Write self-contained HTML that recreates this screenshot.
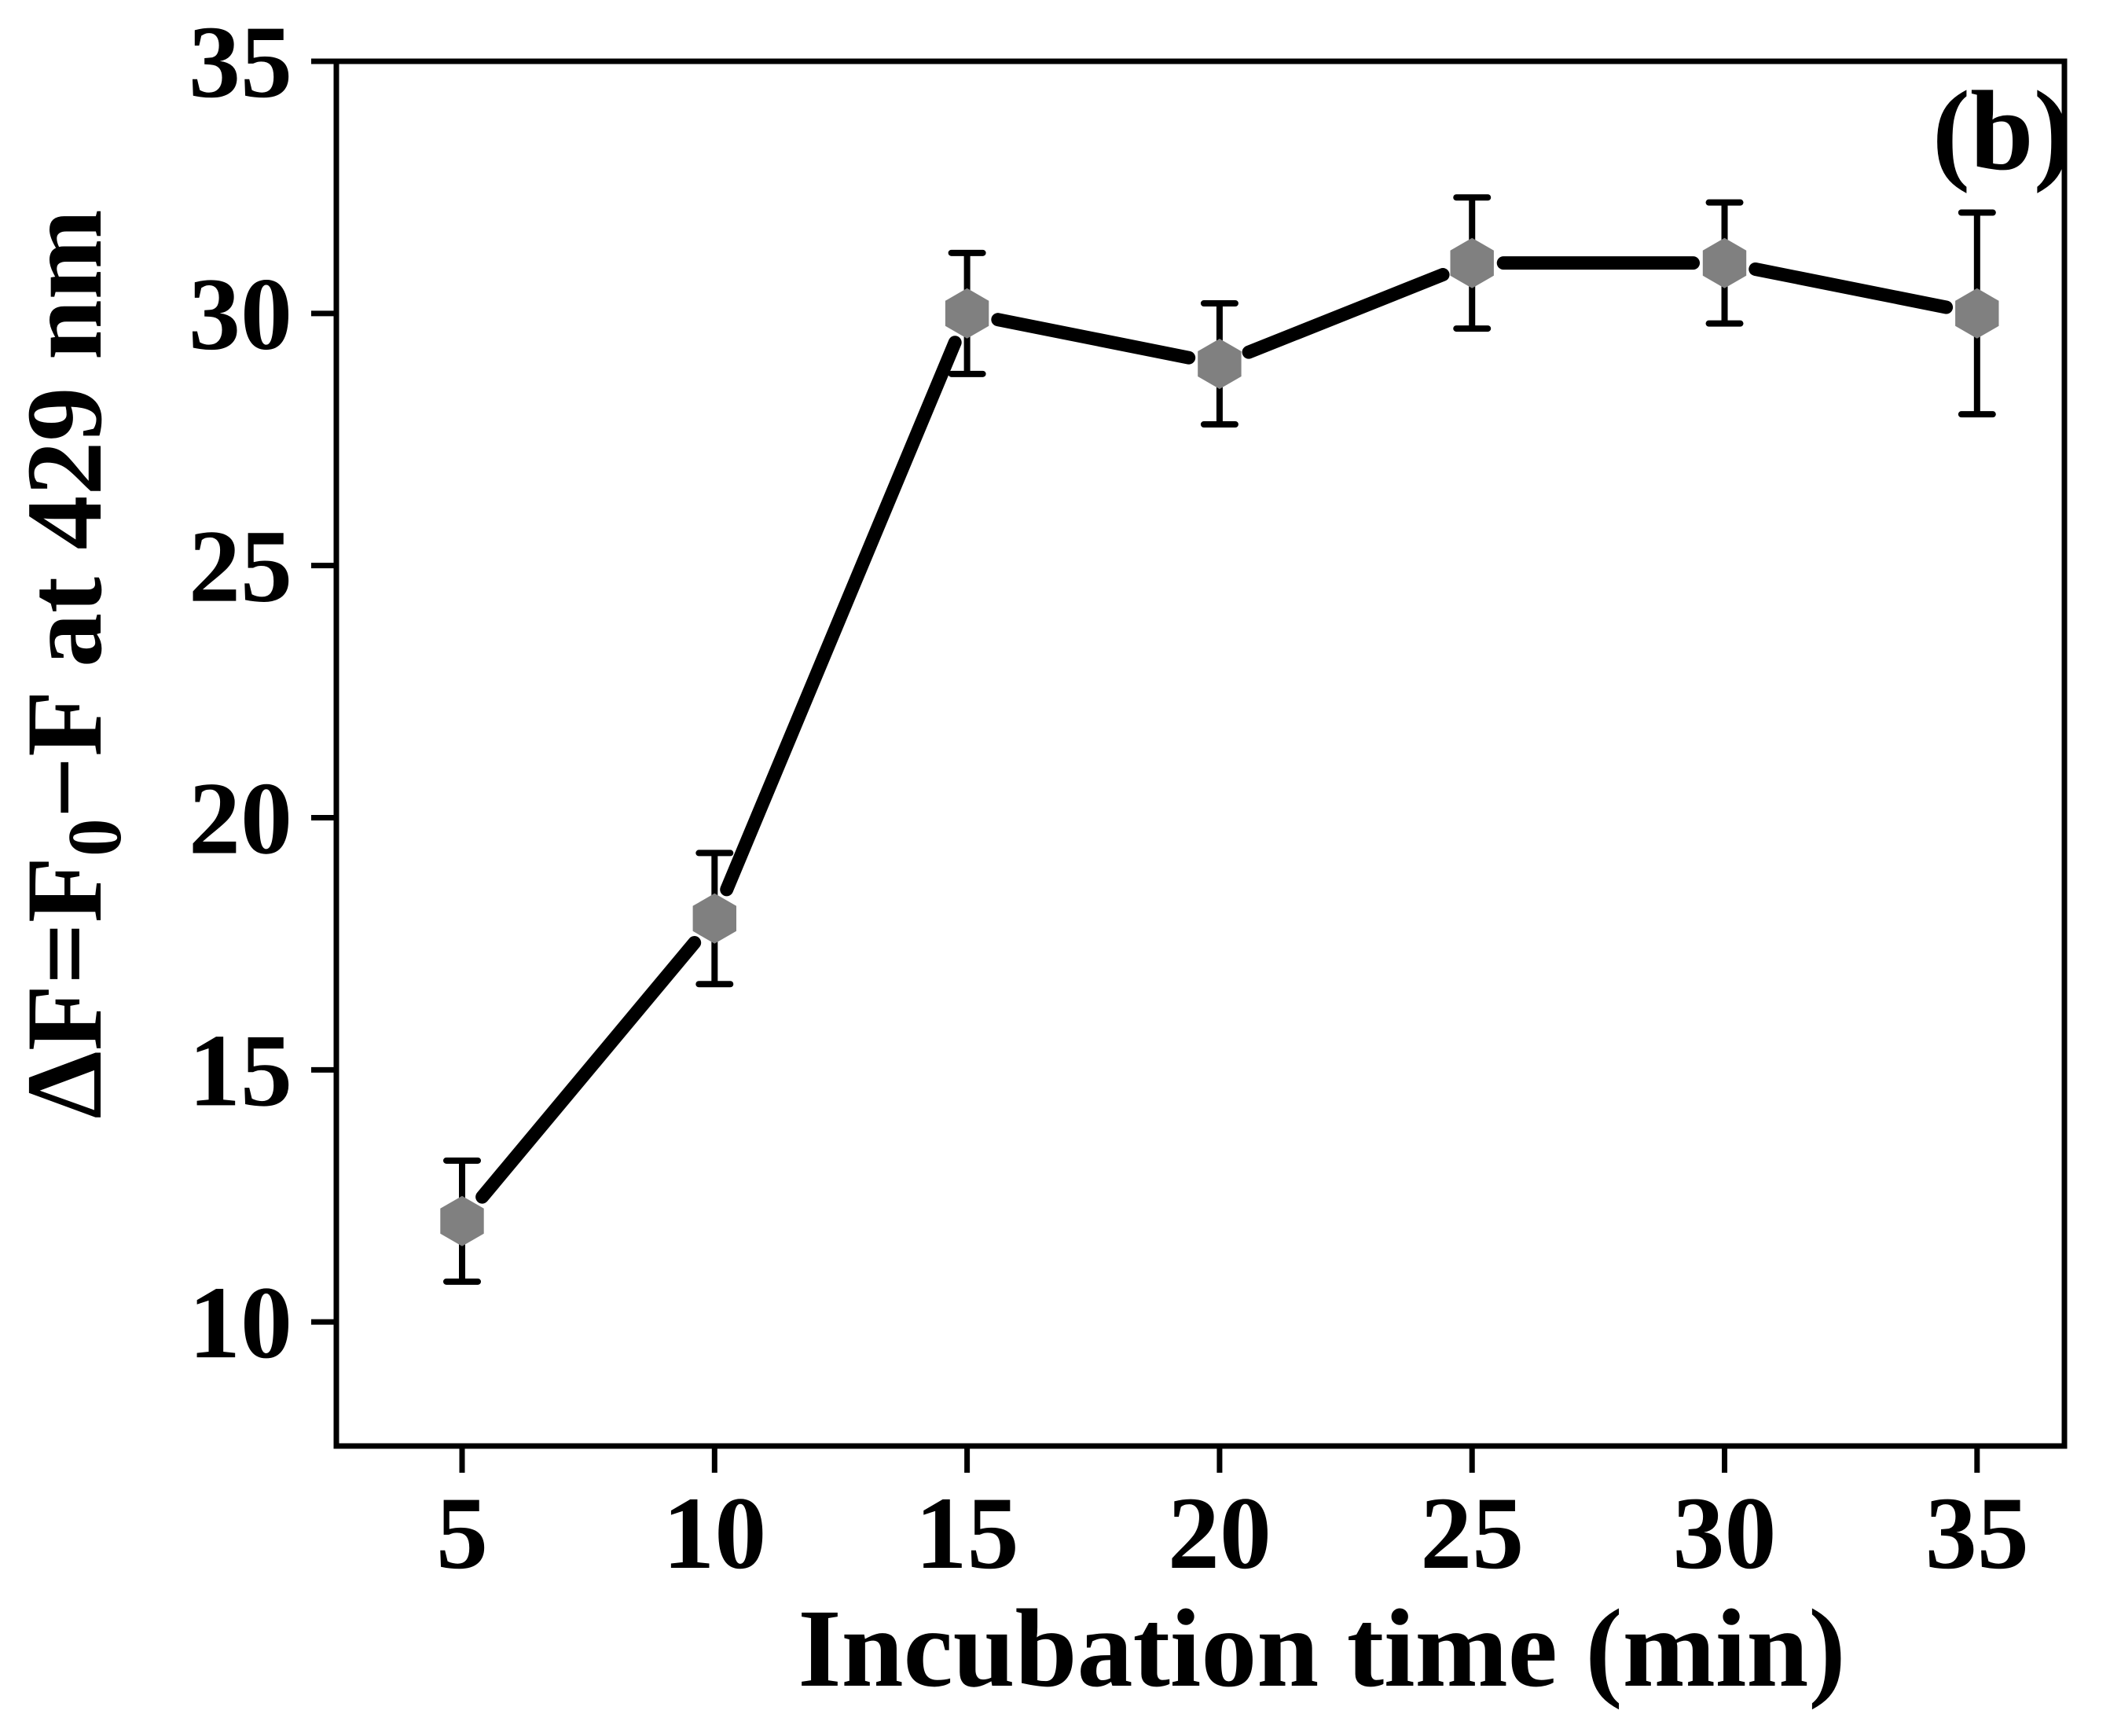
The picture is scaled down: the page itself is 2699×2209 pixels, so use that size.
<!DOCTYPE html>
<html><head><meta charset="utf-8"><style>
html,body{margin:0;padding:0;background:#fff;}
svg text{font-family:"Liberation Serif","Times New Roman",Times,serif;font-weight:700;fill:#000;}
</style></head><body>
<svg id="chart" width="2699" height="2204" viewBox="0 0 2699 2204" xmlns="http://www.w3.org/2000/svg" font-family="Liberation Serif, serif" font-weight="bold">
<rect x="428" y="78" width="2199" height="1762" fill="#fff" stroke="#000" stroke-width="7"/>
<g id="axes"></g>
<g id="series"></g>
<text x="2636" y="215" font-size="145" text-anchor="end">(b)</text>
<text x="1682" y="2145" font-size="142" text-anchor="middle">Incubation time (min)</text>
<text transform="translate(128,845) rotate(-90)" font-size="138" text-anchor="middle">ΔF=F<tspan font-size="97" dy="25">0</tspan><tspan dy="-25">−F at 429 nm</tspan></text>
</svg>
<script>
const times=[5,10,15,20,25,30,35];
const values=[12,18,30,29,31,31,30];
const errors=[1.2,1.3,1.2,1.2,1.3,1.2,2.0];
const xTicks=[5,10,15,20,25,30,35];
const yTicks=[10,15,20,25,30,35];
const NS="http://www.w3.org/2000/svg";
const L=428,R=2627,T=78,B=1840,xmin=2.51,xmax=36.73,ymin=7.54,ymax=35;
function sx(v){return L+(v-xmin)/(xmax-xmin)*(R-L);}
function sy(v){return B-(v-ymin)/(ymax-ymin)*(B-T);}
function mk(tag,attrs,parent){const e=document.createElementNS(NS,tag);for(const k in attrs)e.setAttribute(k,attrs[k]);parent.appendChild(e);return e;}
const ax=document.getElementById('axes'),sr=document.getElementById('series');
xTicks.forEach(t=>{
  const l=mk('line',{x1:sx(t),x2:sx(t),y1:B,y2:B+34,stroke:'#000','stroke-width':7},ax);
  
  
  const tx=mk('text',{x:sx(t),y:1995,'font-size':132,'text-anchor':'middle'},ax);
  tx.textContent=t;
  
  
});
yTicks.forEach(t=>{
  const l=mk('line',{x1:L-32,x2:L,y1:sy(t),y2:sy(t),stroke:'#000','stroke-width':7},ax);
  
  
  const tx=mk('text',{x:372,y:sy(t)+45,'font-size':132,'text-anchor':'end'},ax);
  tx.textContent=t;
  
  
});
for(let i=0;i<times.length-1;i++){
  const x1=sx(times[i]),y1=sy(values[i]),x2=sx(times[i+1]),y2=sy(values[i+1]);
  const dx=x2-x1,dy=y2-y1,d=Math.hypot(dx,dy),g=40;
  const l=mk('line',{x1:x1+dx/d*g,y1:y1+dy/d*g,x2:x2-dx/d*g,y2:y2-dy/d*g,stroke:'#000','stroke-width':17,'stroke-linecap':'round'},sr);
  
  
}
times.forEach((t,i)=>{
  const x=sx(t),y=sy(values[i]),yh=sy(values[i]+errors[i]),yl=sy(values[i]-errors[i]);
  const e=mk('path',{d:`M${x},${yh}V${yl}M${x-20},${yh}H${x+20}M${x-20},${yl}H${x+20}`,stroke:'#000','stroke-width':8,'stroke-linecap':'round',fill:'none'},sr);
  
  
  const r=32,pts=[];
  for(let k=0;k<6;k++){const a=Math.PI/6+k*Math.PI/3;pts.push((x+r*Math.cos(a)).toFixed(1)+','+(y+r*Math.sin(a)).toFixed(1));}
  const m=mk('polygon',{points:pts.join(' '),fill:'#808080'},sr);
  
  
});
</script>
</body></html>
